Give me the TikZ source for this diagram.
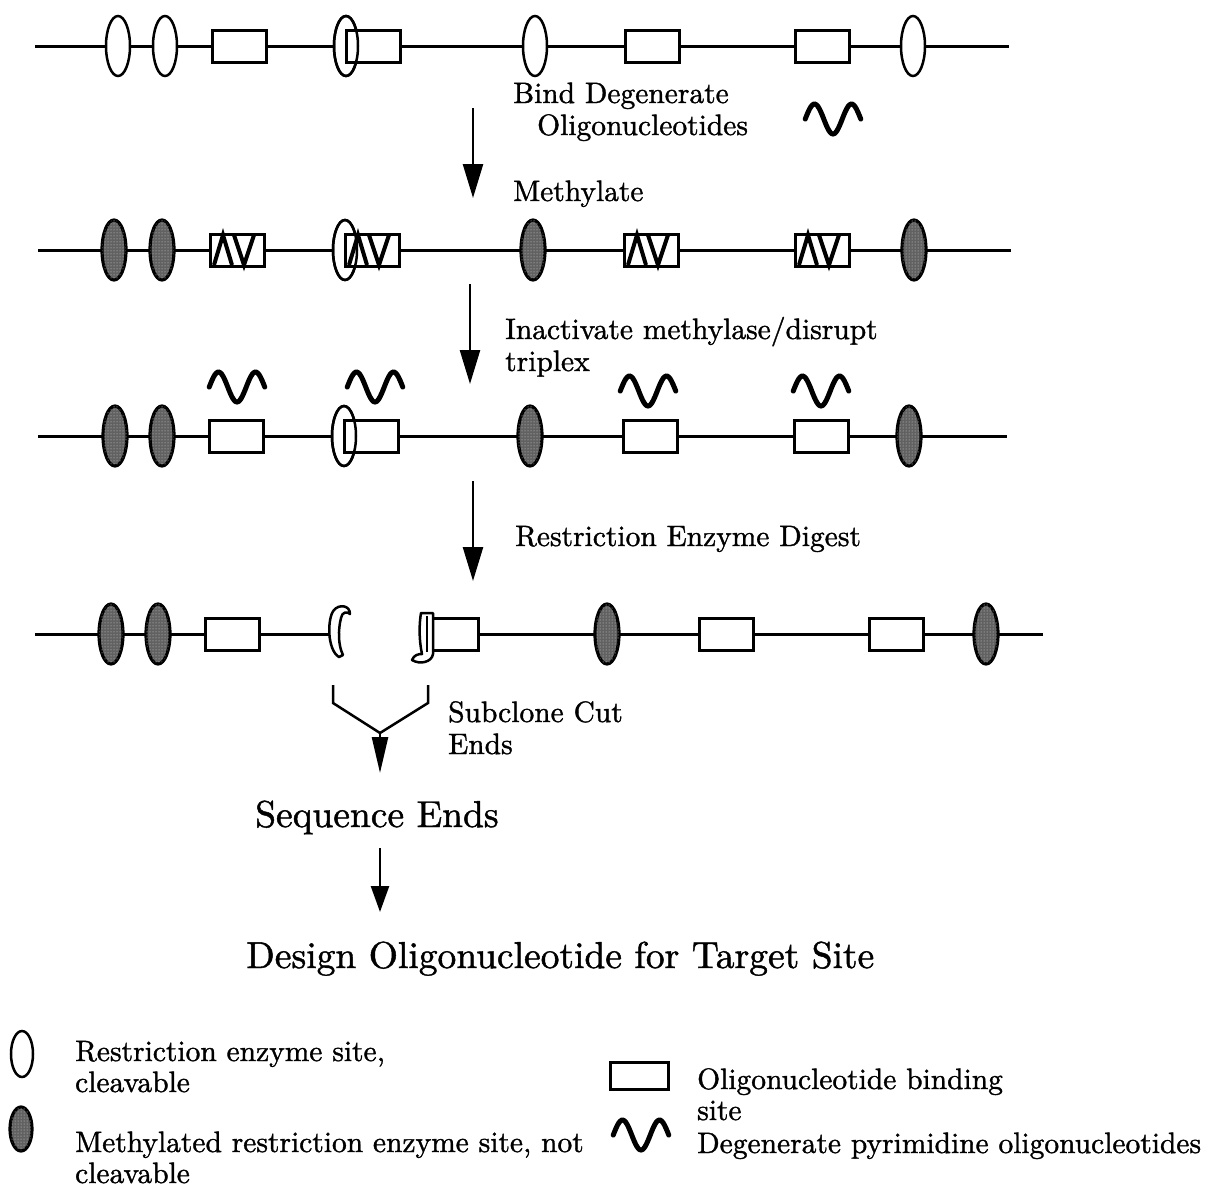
\documentclass[tikz,border=0pt]{standalone}
\usepackage{fontspec}
\setmainfont{lmroman10-regular.otf}[FakeBold=1.2]
\usetikzlibrary{shapes.geometric,arrows.meta,calc,patterns}

\tikzset{
  dna/.style={line width=3pt},
  site/.style={ellipse, draw, line width=2.5pt, fill=white, minimum width=24pt, minimum height=60pt, inner sep=0pt},
  msite/.style={ellipse, draw, line width=3.2pt, fill=black!62, minimum width=24pt, minimum height=60pt, inner sep=0pt,
                postaction={pattern=dots, pattern color=white!85!black}},
  obox/.style={rectangle, draw, line width=3pt, fill=white, minimum width=54pt, minimum height=32pt, inner sep=0pt},
  rim/.style={ellipse, draw, line width=2.5pt, minimum width=24pt, minimum height=60pt, inner sep=0pt},
  cutend/.style={line width=2.5pt, fill=white, line join=round},
  lbl/.style={font=\fontsize{29.5}{32}\selectfont, inner sep=0pt, anchor=base west},
  biglbl/.style={font=\fontsize{37.5}{40}\selectfont, inner sep=0pt, anchor=base west},
  steparrow/.style={line width=2.5pt, -{Triangle[length=34pt,width=20pt]}},
  oligo/.pic={\draw[line width=5pt, line cap=round]
      plot[domain=-1.5:1.5, samples=41, smooth] ({\x*18.5},{15*cos(\x*180)});},
  triplex/.pic={
    \draw[line width=4pt, line join=miter] (-23,15) -- (-14,-15) -- (-5,15);
    \draw[line width=4pt, line join=miter] (-3,-15) -- (7,15) -- (17,-15);},
}

\begin{document}
\begin{tikzpicture}[x=1pt,y=-1pt]
\useasboundingbox (0,0) rectangle (1227,1187);
\fill[white] (0,0) rectangle (1227,1187);

% ---- row 1: unmodified DNA ----
\coordinate (r1a) at (35,46);
\coordinate (r1b) at (1009,46);
\draw[dna] (r1a) -- (r1b);
\node[site] (r1s1) at (118,46) {};
\node[site] (r1s2) at (165,46) {};
\node[obox] (r1o1) at (239,46) {};
\node[site] (r1s3) at (346,46) {};
\node[obox] (r1o2) at (373,46) {};
\node[rim]  (r1s3r) at (346,46) {};
\node[site] (r1s4) at (535,46) {};
\node[obox] (r1o3) at (652,46) {};
\node[obox] (r1o4) at (822,46) {};
\node[site] (r1s5) at (913,46) {};

% ---- row 2: oligos bound, methylated ----
\coordinate (r2a) at (38,250);
\coordinate (r2b) at (1011,250);
\draw[dna] (r2a) -- (r2b);
\node[msite] (r2s1) at (114,250) {};
\node[msite] (r2s2) at (162,250) {};
\node[obox] (r2o1) at (237,250) {};
\pic at (237,250) {triplex};
\node[site] (r2s3) at (345,250) {};
\node[obox] (r2o2) at (372,250) {};
\pic at (372,250) {triplex};
\node[rim]  (r2s3r) at (345,250) {};
\node[msite] (r2s4) at (533,250) {};
\node[obox] (r2o3) at (651,250) {};
\pic at (651,250) {triplex};
\node[obox] (r2o4) at (822,250) {};
\pic at (822,250) {triplex};
\node[msite] (r2s5) at (914,250) {};

% ---- row 3: triplex released ----
\coordinate (r3a) at (38,436);
\coordinate (r3b) at (1007,436);
\draw[dna] (r3a) -- (r3b);
\node[msite] (r3s1) at (115,436) {};
\node[msite] (r3s2) at (162,436) {};
\node[obox] (r3o1) at (236,436) {};
\node[site] (r3s3) at (344,436) {};
\node[obox] (r3o2) at (371,436) {};
\node[rim]  (r3s3r) at (344,436) {};
\node[msite] (r3s4) at (530,436) {};
\node[obox] (r3o3) at (650,436) {};
\node[obox] (r3o4) at (821,436) {};
\node[msite] (r3s5) at (909,436) {};
\pic at (237,387) {oligo};
\pic at (375,387) {oligo};
\pic at (648,391) {oligo};
\pic at (821,391) {oligo};

% ---- row 4: after digestion ----
\coordinate (r4a) at (35,634);
\coordinate (r4l) at (331,634);
\coordinate (r4r) at (432,634);
\coordinate (r4b) at (1043,634);
\draw[dna] (r4a) -- (r4l);
\draw[dna] (r4r) -- (r4b);
\node[msite] (r4s1) at (111,634) {};
\node[msite] (r4s2) at (158,634) {};
\node[obox] (r4o1) at (232,634) {};
% left cut end
\draw[cutend] (339,657) .. controls (327,650) and (327,618) .. (334,610)
   .. controls (339,604) and (350,605) .. (350,614)
   .. controls (347,611) and (342,612) .. (341,618)
   .. controls (338,630) and (338,645) .. (343,655) -- cycle;
% right cut end
\node[obox, minimum width=46pt] (r4o2) at (455,634) {};
\draw[cutend] (421,613) -- (433,613) -- (433,654)
   .. controls (432,662) and (420,665) .. (412,660)
   .. controls (414,655) and (418,654) .. (422,654)
   .. controls (419,640) and (419,625) .. (421,613) -- cycle;
\coordinate (r4i1) at (427,616);
\coordinate (r4i2) at (427,652);
\draw[line width=2pt] (r4i1) -- (r4i2);
\node[msite] (r4s3) at (607,634) {};
\node[obox] (r4o3) at (726,634) {};
\node[obox] (r4o4) at (896,634) {};
\node[msite] (r4s4) at (986,634) {};

% ---- step arrows ----
\coordinate (a1s) at (473,108);  \coordinate (a1e) at (473,198);
\coordinate (a2s) at (470,284);  \coordinate (a2e) at (470,384);
\coordinate (a3s) at (473,481);  \coordinate (a3e) at (473,581);
\coordinate (a5s) at (380,848);  \coordinate (a5e) at (380,912);
\draw[steparrow] (a1s) -- (a1e);
\draw[steparrow] (a2s) -- (a2e);
\draw[steparrow] (a3s) -- (a3e);
\draw[steparrow, -{Triangle[length=26pt,width=18pt]}] (a5s) -- (a5e);

% subclone bracket
\coordinate (bl1) at (333,685);
\coordinate (bl2) at (333,703);
\coordinate (bj)  at (380,733);
\coordinate (br2) at (428,703);
\coordinate (br1) at (428,685);
\coordinate (bt)  at (380,773);
\draw[line width=2.5pt, line join=miter] (bl1) -- (bl2) -- (bj) -- (br2) -- (br1);
\draw[line width=2.5pt, -{Triangle[length=36pt,width=16pt]}] (bj) -- (bt);

% ---- step labels ----
\node[lbl] (t1) at (513,103) {Bind Degenerate};
\node[lbl] (t2) at (537,135) {Oligonucleotides};
\pic at (833,119) {oligo};
\node[lbl] (t3) at (513,201) {Methylate};
\node[lbl] (t4) at (505,339) {Inactivate methylase/disrupt};
\node[lbl] (t5) at (505,371) {triplex};
\node[lbl] (t6) at (515,546) {Restriction Enzyme Digest};
\node[lbl] (t7) at (448,722) {Subclone Cut};
\node[lbl] (t8) at (448,754) {Ends};
\node[biglbl] (t9) at (255,827) {Sequence Ends};
\node[biglbl] (t10) at (246,968) {Design Oligonucleotide for Target Site};

% ---- legend ----
\node[site, minimum width=22pt, minimum height=46pt] (l1) at (22,1054) {};
\node[lbl] (l1a) at (75,1061) {Restriction enzyme site,};
\node[lbl] (l1b) at (75,1092) {cleavable};
\node[msite, minimum width=22pt, minimum height=44pt] (l2) at (21,1129) {};
\node[lbl] (l2a) at (75,1152) {Methylated restriction enzyme site, not};
\node[lbl] (l2b) at (75,1183) {cleavable};
\node[obox, minimum width=58pt, minimum height=27pt] (l3) at (639,1076) {};
\node[lbl] (l3a) at (697,1089) {Oligonucleotide binding};
\node[lbl] (l3b) at (697,1120) {site};
\pic at (641,1135) {oligo};
\node[lbl] (l4a) at (697,1153) {Degenerate pyrimidine oligonucleotides};
\end{tikzpicture}
\end{document}
